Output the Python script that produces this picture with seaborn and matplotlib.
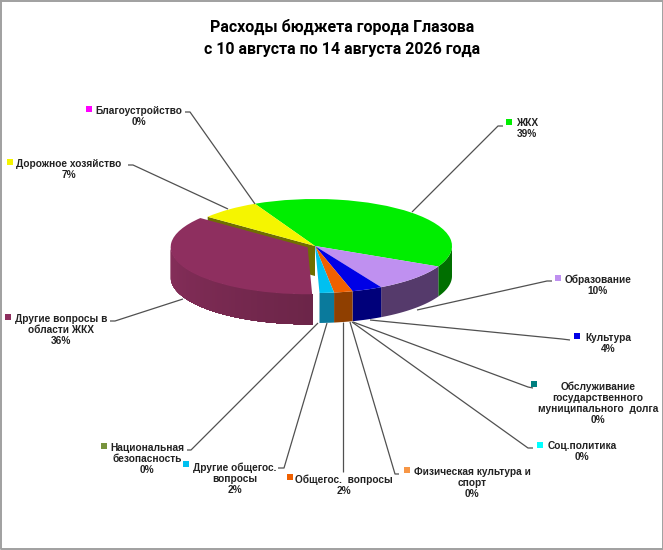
import numpy as np
import matplotlib
matplotlib.use("Agg")
import matplotlib.pyplot as plt
import seaborn as sns

# data
title_lines = ["Расходы бюджета города Глазова", "с 10 августа по 14 августа 2026 года"]
categories = ["ЖКХ", "Образование", "Культура",
              "Обслуживание\nгосударственного\nмуниципального  долга",
              "Соц.политика", "Физическая культура и\nспорт", "Общегос.  вопросы",
              "Другие общегос.\nвопросы", "Национальная\nбезопасность",
              "Другие вопросы в\nобласти ЖКХ", "Дорожное хозяйство", "Благоустройство"]
shares = [39.4, 9.8, 3.6, 0, 0, 0, 2.2, 1.7, 0, 36.2, 7.1, 0]
top_colors = ["#00ee00", "#bf90f0", "#0000e6", "#007f7f", "#00ffff", "#f79646", "#f06000",
              "#00c0f0", "#77933c", "#8e2f5f", "#f5f500", "#ff00ff"]
side_colors = ["#006f00", "#553a6b", "#00007a", "#004040", "#008080", "#7d4b23", "#8f3f00",
               "#0a7a9c", "#3c4a1e", "#7a2a52", "#6f6f00", "#800080"]

sns.set_theme(style="white")
plt.rcParams["font.family"] = ["Liberation Sans", "DejaVu Sans"]

W, H = 663, 550
CX, CY = 315, 246      # pie centre, px
RX, RY = 137, 47       # ellipse radii, px
DEPTH = 30 / RY        # wall height in pie units
START = 116
PLUM = categories.index("Другие вопросы в\nобласти ЖКХ")
ROAD = categories.index("Дорожное хозяйство")
EXPLODE = [0.06 if i == PLUM else 0 for i in range(len(shares))]

fig = plt.figure(figsize=(W / 100, H / 100), dpi=100, facecolor="white")
ax = fig.add_axes([0, 0, 1, 1])

# top of the pie, squashed by hand through the axis limits
wedges, _ = ax.pie(shares, colors=top_colors, startangle=START, counterclock=False,
                   explode=EXPLODE, radius=1, wedgeprops={"linewidth": 0, "zorder": 5})
ax.set_aspect("auto")
ax.set_xlim(-CX / RX, (W - CX) / RX)
ax.set_ylim((CY - H) / RY, CY / RY)
ax.axis("off")


def blend(col, f):
    rgb = np.array(matplotlib.colors.to_rgb(col))
    return tuple(np.clip(rgb * f, 0, 1))


# side walls come from the wedge angles
for i, (w, side) in enumerate(zip(wedges, side_colors)):
    if w.theta2 - w.theta1 < 0.01:
        continue
    ox, oy = w.center
    a1, a2 = w.theta1 % 360, w.theta2 % 360
    if a2 <= a1:
        a2 += 360
    # radial face on the cut left open by the pulled out slice
    if i == ROAD:
        ang = np.radians(a2)
        ax.fill([ox, ox + np.cos(ang), ox + np.cos(ang), ox],
                [oy, oy + np.sin(ang), oy + np.sin(ang) - DEPTH, oy - DEPTH],
                color=side, lw=0, zorder=1)
    t = np.radians(np.linspace(a1, a2, 140))
    vis = t[np.sin(t) <= 0]
    if len(vis) < 2:
        continue
    if i != PLUM:
        xs = ox + np.cos(vis)
        ys = oy + np.sin(vis)
        ax.fill(np.r_[xs, xs[::-1]], np.r_[ys, ys[::-1] - DEPTH], color=side, lw=0, zorder=2)
        continue
    # plum wall darkens to the right, strips overlap the next one so no seams show
    for k in range(len(vis) - 1):
        seg = vis[k:]
        xs = ox + np.cos(seg)
        ys = oy + np.sin(seg)
        ax.fill(np.r_[xs, xs[::-1]], np.r_[ys, ys[::-1] - DEPTH],
                color=blend(side, 1.1 - 0.22 * k / len(vis)), lw=0, zorder=2 + k * 1e-3)

# overlay in pixels for the leaders and labels
ov = fig.add_axes([0, 0, 1, 1], facecolor="none")
ov.set_xlim(0, W)
ov.set_ylim(H, 0)
ov.axis("off")

leaders = [
    [(503, 126), (498, 126), (412, 212)],
    [(552, 281), (547, 281), (417, 310)],
    [(570, 340), (562, 339), (370, 320)],
    [(533, 388), (528, 387), (353, 322)],
    [(533, 448), (528, 448), (352, 322)],
    [(399, 474), (395, 474), (350, 322)],
    [(343, 472), (343, 322)],
    [(278, 468), (284, 468), (327, 323)],
    [(187, 450), (191, 450), (318, 323)],
    [(110, 321), (115, 321), (183, 299)],
    [(128, 165), (133, 165), (228, 209)],
    [(185, 112), (190, 112), (255, 204)],
]
label_xy = [(527, 122), (598, 278), (608, 337), (598, 385), (582, 445), (472, 471),
            (344, 478), (235, 466), (147, 447), (61, 318), (69, 163), (139, 110)]
square_xy = [(509, 122), (558, 278), (577, 336), (534, 384), (540, 445), (407, 470),
             (290, 477), (186, 464), (104, 446), (8, 317), (10, 162), (89, 109)]

for path, col, lab, (lx, ly), (sx, sy), pct in zip(leaders, top_colors, categories, label_xy,
                                                   square_xy, shares):
    px, py = zip(*path)
    ov.plot(px, py, color="#505050", lw=0.9, solid_capstyle="butt")
    ov.scatter([sx], [sy], marker="s", s=15, color=col, linewidths=0)
    ov.text(lx, ly - 4, f"{lab}\n{round(pct)}%", ha="center", va="top", fontsize=7.3,
            fontweight="bold", color="#222222", linespacing=1.15)

ov.text(342, 27, title_lines[0], ha="center", va="center", fontsize=11.5, fontweight="bold",
        family="Roboto", color="black")
ov.text(342, 49, title_lines[1], ha="center", va="center", fontsize=11.5, fontweight="bold",
        family="Roboto", color="black")

# grey picture frame
ov.plot([0.5, W - 0.5, W - 0.5, 0.5, 0.5], [0.5, 0.5, H - 1, H - 1, 0.5], color="#a0a0a0", lw=1.4)

fig.savefig("out.png", dpi=100)
